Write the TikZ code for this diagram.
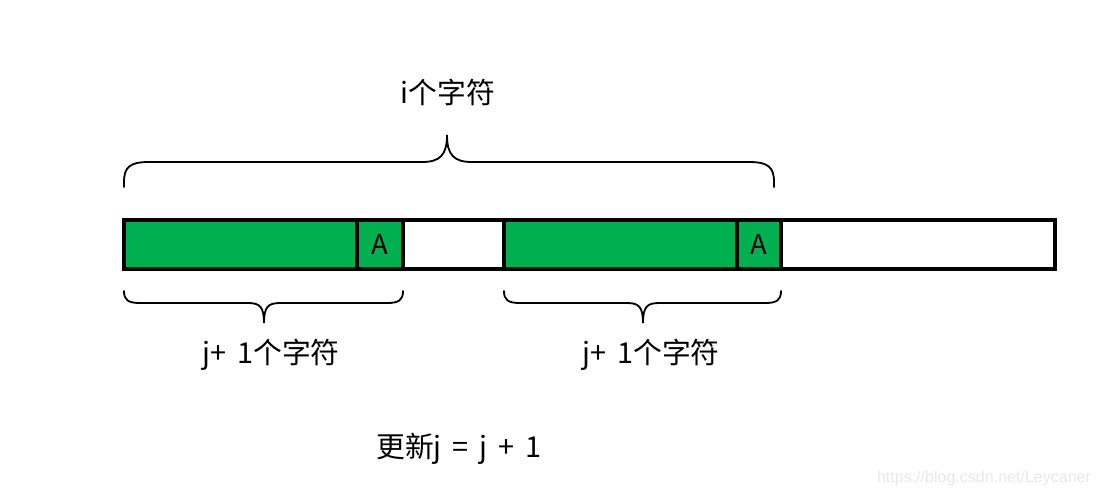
\documentclass[tikz,border=0pt]{standalone}
\usepackage{fontspec}
\setmainfont{Noto Sans CJK SC}[WordSpace=1.7]
\newfontfamily\wmfont{Liberation Sans}
\usetikzlibrary{positioning}
\definecolor{cellg}{HTML}{00B050}
\definecolor{wmgray}{HTML}{E8E8E8}

\begin{document}
\begin{tikzpicture}[x=0.025cm, y=-0.025cm,
  cellbox/.style={draw=black, line width=2.8pt, minimum height=1.225cm,
                  inner sep=0pt, font=\fontsize{19.5}{21}\selectfont},
  brace/.style={draw=black, line width=1.3pt, line cap=round},
  lbl/.style={inner sep=0pt, font=\fontsize{20.5}{24}\selectfont}
]
\useasboundingbox (0,0) rectangle (1099,496);

% the string, cell by cell
\foreach \name/\xa/\xb/\fc/\txt in {ga/124/357/cellg/, aa/357/403/cellg/A,
    wa/403/504/white/, gb/504/737/cellg/, ab/737/781/cellg/A, wb/781/1055/white/}{
  \node[cellbox, fill=\fc, minimum width={(\xb-\xa)*0.025cm}] (\name)
    at ({(\xa+\xb)/2},244.5) {\txt};}

% brace over i characters
\draw[brace] (124,187) -- (124,182) .. controls (124,167) and (130,162) .. (149,162)
  -- (422,162) .. controls (440,162) and (447,155) .. (447,135)
  .. controls (447,155) and (454,162) .. (472,162)
  -- (749,162) .. controls (768,162) and (774,167) .. (774,182) -- (774,187);
\node[lbl] (ilbl) at (448,92) {i个字符};

% braces under j+1 characters
\draw[brace] (124,291) .. controls (124,300) and (128,303) .. (140,303)
  -- (248,303) .. controls (260,303) and (264,307) .. (264,323)
  .. controls (264,307) and (268,303) .. (280,303)
  -- (387,303) .. controls (399,303) and (403,300) .. (403,291);
\node[lbl] (jlbla) at (271,355) {j+ 1个字符};

\draw[brace] (504,291) .. controls (504,300) and (508,303) .. (520,303)
  -- (627,303) .. controls (639,303) and (643,307) .. (643,323)
  .. controls (643,307) and (647,303) .. (659,303)
  -- (765,303) .. controls (777,303) and (781,300) .. (781,291);
\node[lbl] (jlblb) at (651,355) {j+ 1个字符};

\node[lbl] (upd) at (459,449) {更新j = j + 1};

\node[inner sep=0pt, text=wmgray, font=\wmfont\fontsize{11.4}{13}\selectfont]
  (wm) at (984,478) {https://blog.csdn.net/Leycaner};
\end{tikzpicture}
\end{document}
